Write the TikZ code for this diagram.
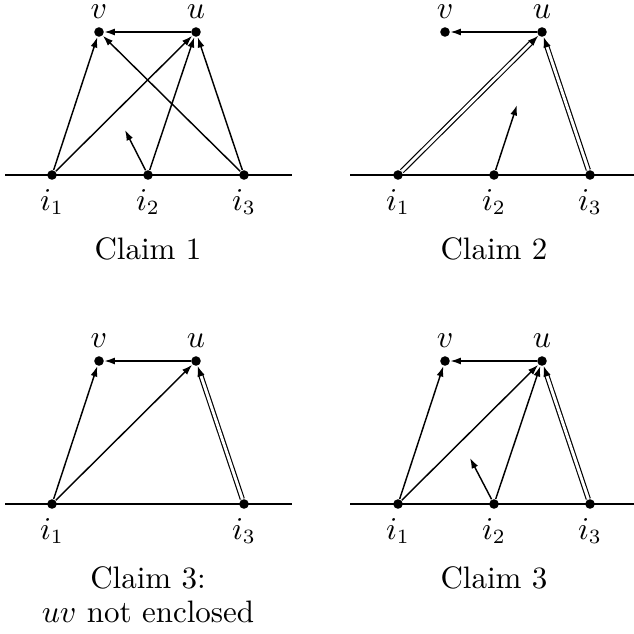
\documentclass[tikz,border=0pt]{standalone}
\usetikzlibrary{arrows.meta}
\begin{document}
\begin{tikzpicture}[x=0.345pt,y=-0.345pt,
  every node/.style={font=\fontsize{10.7}{13}\selectfont},
  dot/.style={circle,fill=black,inner sep=0pt,minimum size=3.3pt},
  arr/.style={line width=0.5pt,-{Latex[length=3.6pt,width=2.4pt]}},
  dbl/.style={double,double distance=1pt,line width=0.4pt,-{Latex[length=3.6pt,width=2.6pt]}},
  baseln/.style={line width=0.6pt},
  lab/.style={anchor=base,inner sep=0pt},
  captext/.style={anchor=base,inner sep=0pt}]
\useasboundingbox (0,0) rectangle (634,633);
% ---------- Panel 1 ----------
\draw[baseln] (5,175) -- (292,175);
\node[dot] (a1) at (52,175) {};
\node[dot] (a2) at (148,175) {};
\node[dot] (a3) at (244,175) {};
\node[dot] (av) at (99,32) {};
\node[dot] (au) at (196,32) {};
\coordinate (a2e) at (125,130);
\draw[arr] (a1) -- (av);
\draw[arr] (a1) -- (au);
\draw[arr] (a2) -- (au);
\draw[arr] (a3) -- (av);
\draw[arr] (a3) -- (au);
\draw[arr] (au) -- (av);
\draw[arr] (a2) -- (a2e);
\node[lab] (avl) at (99,18.5) {$v$};
\node[lab] (aul) at (196,18.5) {$u$};
\node[lab] (a1l) at (52,210) {$i_1$};
\node[lab] (a2l) at (148,210) {$i_2$};
\node[lab] (a3l) at (244,210) {$i_3$};
\node[captext] (acap) at (148,259) {Claim 1};
% ---------- Panel 2 ----------
\draw[baseln] (350,175) -- (634,175);
\node[dot] (b1) at (398,175) {};
\node[dot] (b2) at (494,175) {};
\node[dot] (b3) at (590,175) {};
\node[dot] (bv) at (445,32) {};
\node[dot] (bu) at (542,32) {};
\coordinate (b2e) at (517,105);
\draw[dbl] (b1) -- (bu);
\draw[dbl] (b3) -- (bu);
\draw[arr] (bu) -- (bv);
\draw[arr] (b2) -- (b2e);
\node[lab] (bvl) at (445,18.5) {$v$};
\node[lab] (bul) at (542,18.5) {$u$};
\node[lab] (b1l) at (398,210) {$i_1$};
\node[lab] (b2l) at (494,210) {$i_2$};
\node[lab] (b3l) at (590,210) {$i_3$};
\node[captext] (bcap) at (494,259) {Claim 2};
% ---------- Panel 3 ----------
\draw[baseln] (5,504) -- (292,504);
\node[dot] (c1) at (52,504) {};
\node[dot] (c3) at (244,504) {};
\node[dot] (cv) at (99,361) {};
\node[dot] (cu) at (196,361) {};
\draw[arr] (c1) -- (cv);
\draw[arr] (c1) -- (cu);
\draw[dbl] (c3) -- (cu);
\draw[arr] (cu) -- (cv);
\node[lab] (cvl) at (99,347.5) {$v$};
\node[lab] (cul) at (196,347.5) {$u$};
\node[lab] (c1l) at (52,539) {$i_1$};
\node[lab] (c3l) at (244,539) {$i_3$};
\node[captext] (ccap) at (148,588) {Claim 3:};
\node[captext] (ccap2) at (148,622) {$uv$ not enclosed};
% ---------- Panel 4 ----------
\draw[baseln] (350,504) -- (634,504);
\node[dot] (d1) at (398,504) {};
\node[dot] (d2) at (494,504) {};
\node[dot] (d3) at (590,504) {};
\node[dot] (dv) at (445,361) {};
\node[dot] (du) at (542,361) {};
\coordinate (d2e) at (470,458);
\draw[arr] (d1) -- (dv);
\draw[arr] (d1) -- (du);
\draw[arr] (d2) -- (du);
\draw[dbl] (d3) -- (du);
\draw[arr] (du) -- (dv);
\draw[arr] (d2) -- (d2e);
\node[lab] (dvl) at (445,347.5) {$v$};
\node[lab] (dul) at (542,347.5) {$u$};
\node[lab] (d1l) at (398,539) {$i_1$};
\node[lab] (d2l) at (494,539) {$i_2$};
\node[lab] (d3l) at (590,539) {$i_3$};
\node[captext] (dcap) at (494,588) {Claim 3};
\end{tikzpicture}
\end{document}
